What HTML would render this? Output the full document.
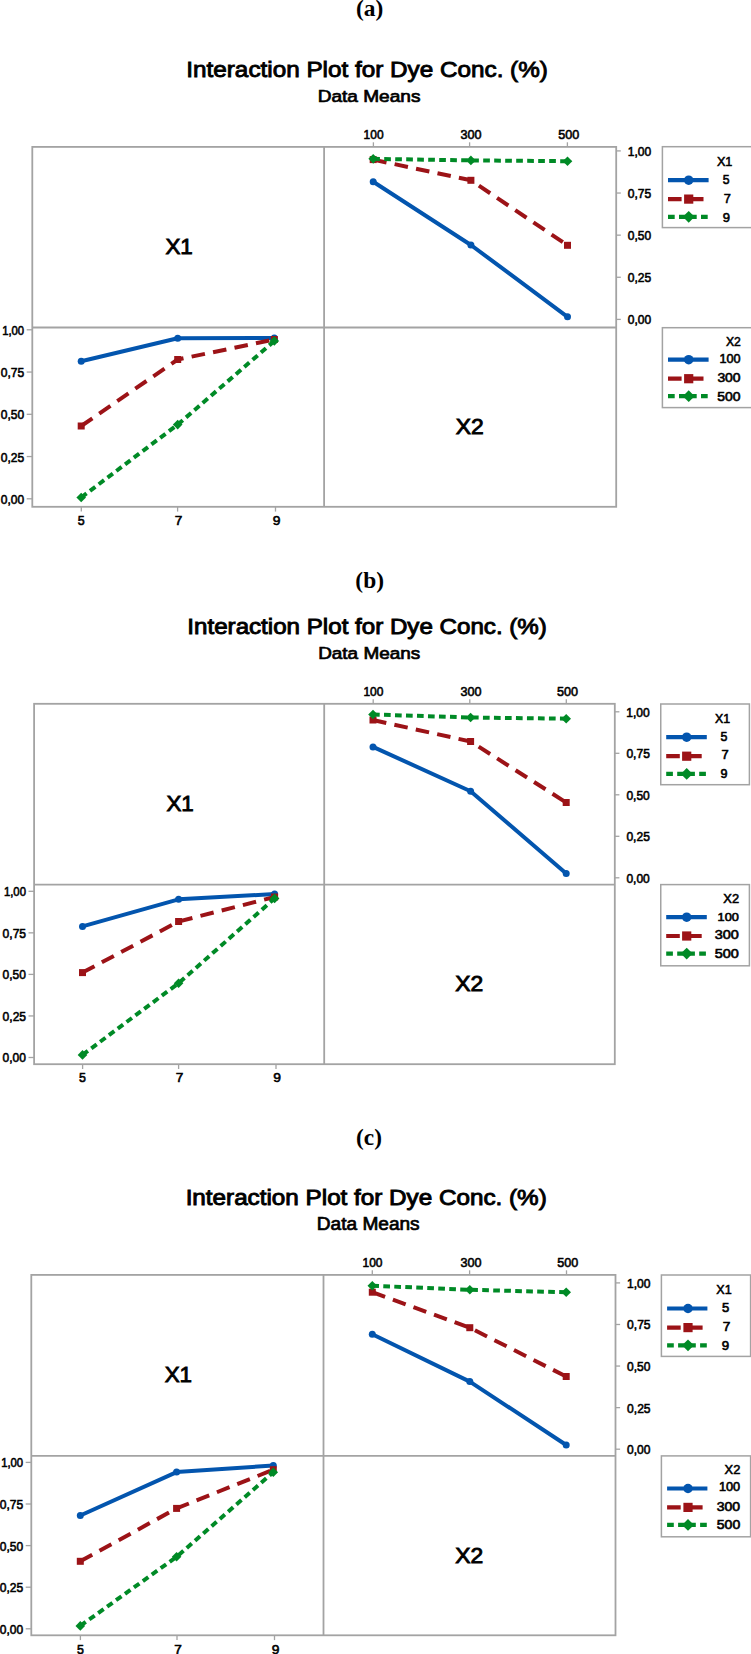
<!DOCTYPE html>
<html><head><meta charset="utf-8"><title>Interaction Plot for Dye Conc. (%)</title>
<style>html,body{margin:0;padding:0;background:#fff;}svg{display:block;}</style></head>
<body>
<svg width="751" height="1654" viewBox="0 0 751 1654">
<rect width="751" height="1654" fill="#fff"/>
<rect x="32.30" y="146.90" width="583.90" height="359.90" fill="none" stroke="#a3a3a3" stroke-width="1.8"/>
<line x1="324.10" y1="146.90" x2="324.10" y2="506.80" stroke="#a3a3a3" stroke-width="1.8"/>
<line x1="32.30" y1="327.50" x2="616.20" y2="327.50" stroke="#a3a3a3" stroke-width="1.8"/>
<line x1="373.40" y1="142.30" x2="373.40" y2="146.90" stroke="#a3a3a3" stroke-width="1.3"/>
<line x1="469.60" y1="142.30" x2="469.60" y2="146.90" stroke="#a3a3a3" stroke-width="1.3"/>
<line x1="567.40" y1="142.30" x2="567.40" y2="146.90" stroke="#a3a3a3" stroke-width="1.3"/>
<line x1="81.30" y1="506.80" x2="81.30" y2="511.60" stroke="#a3a3a3" stroke-width="1.3"/>
<line x1="177.60" y1="506.80" x2="177.60" y2="511.60" stroke="#a3a3a3" stroke-width="1.3"/>
<line x1="275.50" y1="506.80" x2="275.50" y2="511.60" stroke="#a3a3a3" stroke-width="1.3"/>
<line x1="616.20" y1="319.40" x2="620.80" y2="319.40" stroke="#a3a3a3" stroke-width="1.3"/>
<line x1="616.20" y1="277.27" x2="620.80" y2="277.27" stroke="#a3a3a3" stroke-width="1.3"/>
<line x1="616.20" y1="235.15" x2="620.80" y2="235.15" stroke="#a3a3a3" stroke-width="1.3"/>
<line x1="616.20" y1="193.03" x2="620.80" y2="193.03" stroke="#a3a3a3" stroke-width="1.3"/>
<line x1="616.20" y1="150.90" x2="620.80" y2="150.90" stroke="#a3a3a3" stroke-width="1.3"/>
<line x1="26.70" y1="498.80" x2="32.30" y2="498.80" stroke="#a3a3a3" stroke-width="1.3"/>
<line x1="26.70" y1="456.55" x2="32.30" y2="456.55" stroke="#a3a3a3" stroke-width="1.3"/>
<line x1="26.70" y1="414.30" x2="32.30" y2="414.30" stroke="#a3a3a3" stroke-width="1.3"/>
<line x1="26.70" y1="372.05" x2="32.30" y2="372.05" stroke="#a3a3a3" stroke-width="1.3"/>
<line x1="26.70" y1="329.80" x2="32.30" y2="329.80" stroke="#a3a3a3" stroke-width="1.3"/>
<polyline points="81.20,361.30 177.70,338.30 274.30,338.00" fill="none" stroke="#0355ae" stroke-width="4" stroke-linejoin="round"/>
<circle cx="81.20" cy="361.30" r="3.50" fill="#0355ae"/>
<circle cx="177.70" cy="338.30" r="3.50" fill="#0355ae"/>
<circle cx="274.30" cy="338.00" r="3.50" fill="#0355ae"/>
<polyline points="81.20,426.00 177.70,359.50 274.30,339.50" fill="none" stroke="#9c1317" stroke-width="4" stroke-linejoin="round" stroke-dasharray="13.6 8.3"/>
<rect x="77.70" y="422.50" width="7.00" height="7.00" fill="#9c1317"/>
<rect x="174.20" y="356.00" width="7.00" height="7.00" fill="#9c1317"/>
<rect x="270.80" y="336.00" width="7.00" height="7.00" fill="#9c1317"/>
<polyline points="81.20,497.50 177.70,424.60 274.30,341.00" fill="none" stroke="#008a26" stroke-width="4" stroke-linejoin="round" stroke-dasharray="6.7 4.3"/>
<polygon points="81.20,492.70 86.00,497.50 81.20,502.30 76.40,497.50" fill="#008a26"/>
<polygon points="177.70,419.80 182.50,424.60 177.70,429.40 172.90,424.60" fill="#008a26"/>
<polygon points="274.30,336.20 279.10,341.00 274.30,345.80 269.50,341.00" fill="#008a26"/>
<polyline points="373.20,181.75 470.90,245.00 567.50,316.80" fill="none" stroke="#0355ae" stroke-width="4" stroke-linejoin="round"/>
<circle cx="373.20" cy="181.75" r="3.50" fill="#0355ae"/>
<circle cx="470.90" cy="245.00" r="3.50" fill="#0355ae"/>
<circle cx="567.50" cy="316.80" r="3.50" fill="#0355ae"/>
<polyline points="373.20,159.60 470.90,180.30 567.50,245.30" fill="none" stroke="#9c1317" stroke-width="4" stroke-linejoin="round" stroke-dasharray="13.6 8.3"/>
<rect x="369.70" y="156.10" width="7.00" height="7.00" fill="#9c1317"/>
<rect x="467.40" y="176.80" width="7.00" height="7.00" fill="#9c1317"/>
<rect x="564.00" y="241.80" width="7.00" height="7.00" fill="#9c1317"/>
<polyline points="373.20,158.85 470.90,160.40 567.50,161.20" fill="none" stroke="#008a26" stroke-width="4" stroke-linejoin="round" stroke-dasharray="6.7 4.3"/>
<polygon points="373.20,154.05 378.00,158.85 373.20,163.65 368.40,158.85" fill="#008a26"/>
<polygon points="470.90,155.60 475.70,160.40 470.90,165.20 466.10,160.40" fill="#008a26"/>
<polygon points="567.50,156.40 572.30,161.20 567.50,166.00 562.70,161.20" fill="#008a26"/>
<rect x="662.40" y="146.70" width="97.60" height="80.90" fill="none" stroke="#a3a3a3" stroke-width="1.5"/>
<line x1="668.00" y1="180.20" x2="708.60" y2="180.20" stroke="#0355ae" stroke-width="4.2"/>
<circle cx="688.70" cy="180.20" r="4.75" fill="#0355ae"/>
<line x1="668.00" y1="199.10" x2="708.60" y2="199.10" stroke="#9c1317" stroke-width="4.2" stroke-dasharray="13.6 8.3"/>
<rect x="684.10" y="194.50" width="9.20" height="9.20" fill="#9c1317"/>
<line x1="668.00" y1="216.80" x2="708.60" y2="216.80" stroke="#008a26" stroke-width="4.2" stroke-dasharray="6.7 4.3"/>
<polygon points="688.70,210.90 694.60,216.80 688.70,222.70 682.80,216.80" fill="#008a26"/>
<rect x="662.40" y="327.70" width="97.60" height="79.90" fill="none" stroke="#a3a3a3" stroke-width="1.5"/>
<line x1="668.00" y1="359.70" x2="708.60" y2="359.70" stroke="#0355ae" stroke-width="4.2"/>
<circle cx="688.70" cy="359.70" r="4.75" fill="#0355ae"/>
<line x1="668.00" y1="378.70" x2="708.60" y2="378.70" stroke="#9c1317" stroke-width="4.2" stroke-dasharray="13.6 8.3"/>
<rect x="684.10" y="374.10" width="9.20" height="9.20" fill="#9c1317"/>
<line x1="668.00" y1="396.20" x2="708.60" y2="396.20" stroke="#008a26" stroke-width="4.2" stroke-dasharray="6.7 4.3"/>
<polygon points="688.70,390.30 694.60,396.20 688.70,402.10 682.80,396.20" fill="#008a26"/>
<rect x="34.10" y="703.80" width="580.70" height="360.40" fill="none" stroke="#a3a3a3" stroke-width="1.8"/>
<line x1="324.20" y1="703.80" x2="324.20" y2="1064.20" stroke="#a3a3a3" stroke-width="1.8"/>
<line x1="34.10" y1="884.60" x2="614.80" y2="884.60" stroke="#a3a3a3" stroke-width="1.8"/>
<line x1="373.20" y1="699.20" x2="373.20" y2="703.80" stroke="#a3a3a3" stroke-width="1.3"/>
<line x1="469.80" y1="699.20" x2="469.80" y2="703.80" stroke="#a3a3a3" stroke-width="1.3"/>
<line x1="566.30" y1="699.20" x2="566.30" y2="703.80" stroke="#a3a3a3" stroke-width="1.3"/>
<line x1="82.60" y1="1064.20" x2="82.60" y2="1069.00" stroke="#a3a3a3" stroke-width="1.3"/>
<line x1="178.60" y1="1064.20" x2="178.60" y2="1069.00" stroke="#a3a3a3" stroke-width="1.3"/>
<line x1="276.00" y1="1064.20" x2="276.00" y2="1069.00" stroke="#a3a3a3" stroke-width="1.3"/>
<line x1="614.80" y1="877.80" x2="619.40" y2="877.80" stroke="#a3a3a3" stroke-width="1.3"/>
<line x1="614.80" y1="836.30" x2="619.40" y2="836.30" stroke="#a3a3a3" stroke-width="1.3"/>
<line x1="614.80" y1="794.80" x2="619.40" y2="794.80" stroke="#a3a3a3" stroke-width="1.3"/>
<line x1="614.80" y1="753.30" x2="619.40" y2="753.30" stroke="#a3a3a3" stroke-width="1.3"/>
<line x1="614.80" y1="711.80" x2="619.40" y2="711.80" stroke="#a3a3a3" stroke-width="1.3"/>
<line x1="28.50" y1="1057.50" x2="34.10" y2="1057.50" stroke="#a3a3a3" stroke-width="1.3"/>
<line x1="28.50" y1="1015.95" x2="34.10" y2="1015.95" stroke="#a3a3a3" stroke-width="1.3"/>
<line x1="28.50" y1="974.40" x2="34.10" y2="974.40" stroke="#a3a3a3" stroke-width="1.3"/>
<line x1="28.50" y1="932.85" x2="34.10" y2="932.85" stroke="#a3a3a3" stroke-width="1.3"/>
<line x1="28.50" y1="891.30" x2="34.10" y2="891.30" stroke="#a3a3a3" stroke-width="1.3"/>
<polyline points="82.50,926.40 178.60,899.30 274.60,894.10" fill="none" stroke="#0355ae" stroke-width="4" stroke-linejoin="round"/>
<circle cx="82.50" cy="926.40" r="3.50" fill="#0355ae"/>
<circle cx="178.60" cy="899.30" r="3.50" fill="#0355ae"/>
<circle cx="274.60" cy="894.10" r="3.50" fill="#0355ae"/>
<polyline points="82.50,972.60 178.60,921.50 274.60,897.00" fill="none" stroke="#9c1317" stroke-width="4" stroke-linejoin="round" stroke-dasharray="13.6 8.3"/>
<rect x="79.00" y="969.10" width="7.00" height="7.00" fill="#9c1317"/>
<rect x="175.10" y="918.00" width="7.00" height="7.00" fill="#9c1317"/>
<rect x="271.10" y="893.50" width="7.00" height="7.00" fill="#9c1317"/>
<polyline points="82.50,1054.90 178.60,983.20 274.60,898.40" fill="none" stroke="#008a26" stroke-width="4" stroke-linejoin="round" stroke-dasharray="6.7 4.3"/>
<polygon points="82.50,1050.10 87.30,1054.90 82.50,1059.70 77.70,1054.90" fill="#008a26"/>
<polygon points="178.60,978.40 183.40,983.20 178.60,988.00 173.80,983.20" fill="#008a26"/>
<polygon points="274.60,893.60 279.40,898.40 274.60,903.20 269.80,898.40" fill="#008a26"/>
<polyline points="373.00,746.90 470.60,791.20 566.20,873.60" fill="none" stroke="#0355ae" stroke-width="4" stroke-linejoin="round"/>
<circle cx="373.00" cy="746.90" r="3.50" fill="#0355ae"/>
<circle cx="470.60" cy="791.20" r="3.50" fill="#0355ae"/>
<circle cx="566.20" cy="873.60" r="3.50" fill="#0355ae"/>
<polyline points="373.00,720.00 470.60,741.50 566.20,802.50" fill="none" stroke="#9c1317" stroke-width="4" stroke-linejoin="round" stroke-dasharray="13.6 8.3"/>
<rect x="369.50" y="716.50" width="7.00" height="7.00" fill="#9c1317"/>
<rect x="467.10" y="738.00" width="7.00" height="7.00" fill="#9c1317"/>
<rect x="562.70" y="799.00" width="7.00" height="7.00" fill="#9c1317"/>
<polyline points="373.00,714.50 470.60,717.50 566.20,718.70" fill="none" stroke="#008a26" stroke-width="4" stroke-linejoin="round" stroke-dasharray="6.7 4.3"/>
<polygon points="373.00,709.70 377.80,714.50 373.00,719.30 368.20,714.50" fill="#008a26"/>
<polygon points="470.60,712.70 475.40,717.50 470.60,722.30 465.80,717.50" fill="#008a26"/>
<polygon points="566.20,713.90 571.00,718.70 566.20,723.50 561.40,718.70" fill="#008a26"/>
<rect x="660.75" y="704.00" width="88.65" height="80.70" fill="none" stroke="#a3a3a3" stroke-width="1.5"/>
<line x1="666.20" y1="737.20" x2="706.80" y2="737.20" stroke="#0355ae" stroke-width="4.2"/>
<circle cx="686.70" cy="737.20" r="4.75" fill="#0355ae"/>
<line x1="666.20" y1="756.20" x2="706.80" y2="756.20" stroke="#9c1317" stroke-width="4.2" stroke-dasharray="13.6 8.3"/>
<rect x="682.10" y="751.60" width="9.20" height="9.20" fill="#9c1317"/>
<line x1="666.20" y1="773.90" x2="706.80" y2="773.90" stroke="#008a26" stroke-width="4.2" stroke-dasharray="6.7 4.3"/>
<polygon points="686.70,768.00 692.60,773.90 686.70,779.80 680.80,773.90" fill="#008a26"/>
<rect x="660.75" y="884.60" width="88.65" height="81.20" fill="none" stroke="#a3a3a3" stroke-width="1.5"/>
<line x1="666.20" y1="917.20" x2="706.80" y2="917.20" stroke="#0355ae" stroke-width="4.2"/>
<circle cx="686.70" cy="917.20" r="4.75" fill="#0355ae"/>
<line x1="666.20" y1="936.00" x2="706.80" y2="936.00" stroke="#9c1317" stroke-width="4.2" stroke-dasharray="13.6 8.3"/>
<rect x="682.10" y="931.40" width="9.20" height="9.20" fill="#9c1317"/>
<line x1="666.20" y1="953.60" x2="706.80" y2="953.60" stroke="#008a26" stroke-width="4.2" stroke-dasharray="6.7 4.3"/>
<polygon points="686.70,947.70 692.60,953.60 686.70,959.50 680.80,953.60" fill="#008a26"/>
<rect x="31.30" y="1274.90" width="584.20" height="360.40" fill="none" stroke="#a3a3a3" stroke-width="1.8"/>
<line x1="323.50" y1="1274.90" x2="323.50" y2="1635.30" stroke="#a3a3a3" stroke-width="1.8"/>
<line x1="31.30" y1="1455.90" x2="615.50" y2="1455.90" stroke="#a3a3a3" stroke-width="1.8"/>
<line x1="372.30" y1="1270.30" x2="372.30" y2="1274.90" stroke="#a3a3a3" stroke-width="1.3"/>
<line x1="469.60" y1="1270.30" x2="469.60" y2="1274.90" stroke="#a3a3a3" stroke-width="1.3"/>
<line x1="566.50" y1="1270.30" x2="566.50" y2="1274.90" stroke="#a3a3a3" stroke-width="1.3"/>
<line x1="80.40" y1="1635.30" x2="80.40" y2="1640.10" stroke="#a3a3a3" stroke-width="1.3"/>
<line x1="177.00" y1="1635.30" x2="177.00" y2="1640.10" stroke="#a3a3a3" stroke-width="1.3"/>
<line x1="274.50" y1="1635.30" x2="274.50" y2="1640.10" stroke="#a3a3a3" stroke-width="1.3"/>
<line x1="615.50" y1="1449.20" x2="620.10" y2="1449.20" stroke="#a3a3a3" stroke-width="1.3"/>
<line x1="615.50" y1="1407.62" x2="620.10" y2="1407.62" stroke="#a3a3a3" stroke-width="1.3"/>
<line x1="615.50" y1="1366.05" x2="620.10" y2="1366.05" stroke="#a3a3a3" stroke-width="1.3"/>
<line x1="615.50" y1="1324.48" x2="620.10" y2="1324.48" stroke="#a3a3a3" stroke-width="1.3"/>
<line x1="615.50" y1="1282.90" x2="620.10" y2="1282.90" stroke="#a3a3a3" stroke-width="1.3"/>
<line x1="25.70" y1="1628.80" x2="31.30" y2="1628.80" stroke="#a3a3a3" stroke-width="1.3"/>
<line x1="25.70" y1="1587.20" x2="31.30" y2="1587.20" stroke="#a3a3a3" stroke-width="1.3"/>
<line x1="25.70" y1="1545.60" x2="31.30" y2="1545.60" stroke="#a3a3a3" stroke-width="1.3"/>
<line x1="25.70" y1="1504.00" x2="31.30" y2="1504.00" stroke="#a3a3a3" stroke-width="1.3"/>
<line x1="25.70" y1="1462.40" x2="31.30" y2="1462.40" stroke="#a3a3a3" stroke-width="1.3"/>
<polyline points="80.30,1515.50 176.60,1472.10 273.30,1465.50" fill="none" stroke="#0355ae" stroke-width="4" stroke-linejoin="round"/>
<circle cx="80.30" cy="1515.50" r="3.50" fill="#0355ae"/>
<circle cx="176.60" cy="1472.10" r="3.50" fill="#0355ae"/>
<circle cx="273.30" cy="1465.50" r="3.50" fill="#0355ae"/>
<polyline points="80.30,1561.30 176.60,1508.40 273.30,1469.70" fill="none" stroke="#9c1317" stroke-width="4" stroke-linejoin="round" stroke-dasharray="13.6 8.3"/>
<rect x="76.80" y="1557.80" width="7.00" height="7.00" fill="#9c1317"/>
<rect x="173.10" y="1504.90" width="7.00" height="7.00" fill="#9c1317"/>
<rect x="269.80" y="1466.20" width="7.00" height="7.00" fill="#9c1317"/>
<polyline points="80.30,1625.90 176.60,1556.80 273.30,1472.20" fill="none" stroke="#008a26" stroke-width="4" stroke-linejoin="round" stroke-dasharray="6.7 4.3"/>
<polygon points="80.30,1621.10 85.10,1625.90 80.30,1630.70 75.50,1625.90" fill="#008a26"/>
<polygon points="176.60,1552.00 181.40,1556.80 176.60,1561.60 171.80,1556.80" fill="#008a26"/>
<polygon points="273.30,1467.40 278.10,1472.20 273.30,1477.00 268.50,1472.20" fill="#008a26"/>
<polyline points="372.30,1334.30 469.80,1381.60 566.20,1445.00" fill="none" stroke="#0355ae" stroke-width="4" stroke-linejoin="round"/>
<circle cx="372.30" cy="1334.30" r="3.50" fill="#0355ae"/>
<circle cx="469.80" cy="1381.60" r="3.50" fill="#0355ae"/>
<circle cx="566.20" cy="1445.00" r="3.50" fill="#0355ae"/>
<polyline points="372.30,1292.20 469.80,1327.70 566.20,1376.50" fill="none" stroke="#9c1317" stroke-width="4" stroke-linejoin="round" stroke-dasharray="13.6 8.3"/>
<rect x="368.80" y="1288.70" width="7.00" height="7.00" fill="#9c1317"/>
<rect x="466.30" y="1324.20" width="7.00" height="7.00" fill="#9c1317"/>
<rect x="562.70" y="1373.00" width="7.00" height="7.00" fill="#9c1317"/>
<polyline points="372.30,1285.70 469.80,1289.80 566.20,1292.30" fill="none" stroke="#008a26" stroke-width="4" stroke-linejoin="round" stroke-dasharray="6.7 4.3"/>
<polygon points="372.30,1280.90 377.10,1285.70 372.30,1290.50 367.50,1285.70" fill="#008a26"/>
<polygon points="469.80,1285.00 474.60,1289.80 469.80,1294.60 465.00,1289.80" fill="#008a26"/>
<polygon points="566.20,1287.50 571.00,1292.30 566.20,1297.10 561.40,1292.30" fill="#008a26"/>
<rect x="661.40" y="1275.00" width="89.20" height="81.40" fill="none" stroke="#a3a3a3" stroke-width="1.5"/>
<line x1="667.10" y1="1308.50" x2="707.40" y2="1308.50" stroke="#0355ae" stroke-width="4.2"/>
<circle cx="688.00" cy="1308.50" r="4.75" fill="#0355ae"/>
<line x1="667.10" y1="1327.60" x2="707.40" y2="1327.60" stroke="#9c1317" stroke-width="4.2" stroke-dasharray="13.6 8.3"/>
<rect x="683.40" y="1323.00" width="9.20" height="9.20" fill="#9c1317"/>
<line x1="667.10" y1="1345.30" x2="707.40" y2="1345.30" stroke="#008a26" stroke-width="4.2" stroke-dasharray="6.7 4.3"/>
<polygon points="688.00,1339.40 693.90,1345.30 688.00,1351.20 682.10,1345.30" fill="#008a26"/>
<rect x="661.40" y="1455.90" width="89.20" height="80.90" fill="none" stroke="#a3a3a3" stroke-width="1.5"/>
<line x1="667.10" y1="1488.50" x2="707.40" y2="1488.50" stroke="#0355ae" stroke-width="4.2"/>
<circle cx="688.00" cy="1488.50" r="4.75" fill="#0355ae"/>
<line x1="667.10" y1="1507.40" x2="707.40" y2="1507.40" stroke="#9c1317" stroke-width="4.2" stroke-dasharray="13.6 8.3"/>
<rect x="683.40" y="1502.80" width="9.20" height="9.20" fill="#9c1317"/>
<line x1="667.10" y1="1524.90" x2="707.40" y2="1524.90" stroke="#008a26" stroke-width="4.2" stroke-dasharray="6.7 4.3"/>
<polygon points="688.00,1519.00 693.90,1524.90 688.00,1530.80 682.10,1524.90" fill="#008a26"/>
<g fill="#000">
<text transform="translate(356.06,16.40) scale(1.0185,1)" font-family="'Liberation Serif', 'Times New Roman', serif" font-weight="bold" font-size="23.00">(a)</text>
<text transform="translate(186.30,77.45) scale(1.0741,1)" font-family="'Liberation Sans', Arial, sans-serif" font-weight="normal" font-size="22.61" stroke="#000" stroke-width="0.90">Interaction Plot for Dye Conc. (%)</text>
<text transform="translate(317.68,102.05) scale(1.1644,1)" font-family="'Liberation Sans', Arial, sans-serif" font-weight="normal" font-size="16.38" stroke="#000" stroke-width="0.70">Data Means</text>
<text transform="translate(363.61,138.90) scale(0.9012,1)" font-family="'Liberation Sans', Arial, sans-serif" font-weight="normal" font-size="13.29" stroke="#000" stroke-width="0.60">100</text>
<text transform="translate(460.38,138.90) scale(0.9482,1)" font-family="'Liberation Sans', Arial, sans-serif" font-weight="normal" font-size="13.29" stroke="#000" stroke-width="0.60">300</text>
<text transform="translate(558.18,138.90) scale(0.9482,1)" font-family="'Liberation Sans', Arial, sans-serif" font-weight="normal" font-size="13.29" stroke="#000" stroke-width="0.60">500</text>
<text transform="translate(77.78,525.00) scale(0.9351,1)" font-family="'Liberation Sans', Arial, sans-serif" font-weight="normal" font-size="13.29" stroke="#000" stroke-width="0.60">5</text>
<text transform="translate(174.83,525.00) scale(1.0281,1)" font-family="'Liberation Sans', Arial, sans-serif" font-weight="normal" font-size="13.29" stroke="#000" stroke-width="0.60">7</text>
<text transform="translate(272.72,525.00) scale(1.0430,1)" font-family="'Liberation Sans', Arial, sans-serif" font-weight="normal" font-size="13.29" stroke="#000" stroke-width="0.60">9</text>
<text transform="translate(627.79,324.35) scale(0.9039,1)" font-family="'Liberation Sans', Arial, sans-serif" font-weight="normal" font-size="13.29" stroke="#000" stroke-width="0.60">0,00</text>
<text transform="translate(0.79,503.75) scale(0.9039,1)" font-family="'Liberation Sans', Arial, sans-serif" font-weight="normal" font-size="13.29" stroke="#000" stroke-width="0.60">0,00</text>
<text transform="translate(627.79,282.22) scale(0.9087,1)" font-family="'Liberation Sans', Arial, sans-serif" font-weight="normal" font-size="13.29" stroke="#000" stroke-width="0.60">0,25</text>
<text transform="translate(0.79,461.50) scale(0.9087,1)" font-family="'Liberation Sans', Arial, sans-serif" font-weight="normal" font-size="13.29" stroke="#000" stroke-width="0.60">0,25</text>
<text transform="translate(627.79,240.10) scale(0.9039,1)" font-family="'Liberation Sans', Arial, sans-serif" font-weight="normal" font-size="13.29" stroke="#000" stroke-width="0.60">0,50</text>
<text transform="translate(0.79,419.25) scale(0.9039,1)" font-family="'Liberation Sans', Arial, sans-serif" font-weight="normal" font-size="13.29" stroke="#000" stroke-width="0.60">0,50</text>
<text transform="translate(627.79,197.97) scale(0.9087,1)" font-family="'Liberation Sans', Arial, sans-serif" font-weight="normal" font-size="13.29" stroke="#000" stroke-width="0.60">0,75</text>
<text transform="translate(0.79,377.00) scale(0.9087,1)" font-family="'Liberation Sans', Arial, sans-serif" font-weight="normal" font-size="13.29" stroke="#000" stroke-width="0.60">0,75</text>
<text transform="translate(627.71,155.85) scale(0.9072,1)" font-family="'Liberation Sans', Arial, sans-serif" font-weight="normal" font-size="13.29" stroke="#000" stroke-width="0.60">1,00</text>
<text transform="translate(2.15,334.75) scale(0.8510,1)" font-family="'Liberation Sans', Arial, sans-serif" font-weight="normal" font-size="13.29" stroke="#000" stroke-width="0.60">1,00</text>
<text transform="translate(165.43,253.85) scale(1.0031,1)" font-family="'Liberation Sans', Arial, sans-serif" font-weight="normal" font-size="22.32" stroke="#000" stroke-width="0.90">X1</text>
<text transform="translate(455.79,434.15) scale(1.0479,1)" font-family="'Liberation Sans', Arial, sans-serif" font-weight="normal" font-size="21.81" stroke="#000" stroke-width="0.90">X2</text>
<text transform="translate(716.88,166.22) scale(0.9557,1)" font-family="'Liberation Sans', Arial, sans-serif" font-weight="normal" font-size="13.26" stroke="#000" stroke-width="0.55">X1</text>
<text transform="translate(722.80,183.50) scale(0.9484,1)" font-family="'Liberation Sans', Arial, sans-serif" font-weight="normal" font-size="12.86" stroke="#000" stroke-width="0.60">5</text>
<text transform="translate(723.65,202.60) scale(0.9781,1)" font-family="'Liberation Sans', Arial, sans-serif" font-weight="normal" font-size="13.14" stroke="#000" stroke-width="0.60">7</text>
<text transform="translate(722.65,221.50) scale(0.9931,1)" font-family="'Liberation Sans', Arial, sans-serif" font-weight="normal" font-size="13.14" stroke="#000" stroke-width="0.60">9</text>
<text transform="translate(725.89,345.93) scale(0.9289,1)" font-family="'Liberation Sans', Arial, sans-serif" font-weight="normal" font-size="13.12" stroke="#000" stroke-width="0.55">X2</text>
<text transform="translate(719.48,363.20) scale(0.9840,1)" font-family="'Liberation Sans', Arial, sans-serif" font-weight="normal" font-size="12.86" stroke="#000" stroke-width="0.60">100</text>
<text transform="translate(717.38,382.00) scale(1.1198,1)" font-family="'Liberation Sans', Arial, sans-serif" font-weight="normal" font-size="12.43" stroke="#000" stroke-width="0.60">300</text>
<text transform="translate(717.37,400.90) scale(1.0835,1)" font-family="'Liberation Sans', Arial, sans-serif" font-weight="normal" font-size="12.86" stroke="#000" stroke-width="0.60">500</text>
<text transform="translate(355.36,587.60) scale(1.0183,1)" font-family="'Liberation Serif', 'Times New Roman', serif" font-weight="bold" font-size="23.00">(b)</text>
<text transform="translate(187.33,634.15) scale(1.1104,1)" font-family="'Liberation Sans', Arial, sans-serif" font-weight="normal" font-size="21.74" stroke="#000" stroke-width="0.90">Interaction Plot for Dye Conc. (%)</text>
<text transform="translate(318.19,658.85) scale(1.1552,1)" font-family="'Liberation Sans', Arial, sans-serif" font-weight="normal" font-size="16.38" stroke="#000" stroke-width="0.70">Data Means</text>
<text transform="translate(363.41,695.80) scale(0.9012,1)" font-family="'Liberation Sans', Arial, sans-serif" font-weight="normal" font-size="13.29" stroke="#000" stroke-width="0.60">100</text>
<text transform="translate(460.58,695.80) scale(0.9482,1)" font-family="'Liberation Sans', Arial, sans-serif" font-weight="normal" font-size="13.29" stroke="#000" stroke-width="0.60">300</text>
<text transform="translate(557.08,695.80) scale(0.9482,1)" font-family="'Liberation Sans', Arial, sans-serif" font-weight="normal" font-size="13.29" stroke="#000" stroke-width="0.60">500</text>
<text transform="translate(79.08,1082.40) scale(0.9351,1)" font-family="'Liberation Sans', Arial, sans-serif" font-weight="normal" font-size="13.29" stroke="#000" stroke-width="0.60">5</text>
<text transform="translate(175.83,1082.40) scale(1.0281,1)" font-family="'Liberation Sans', Arial, sans-serif" font-weight="normal" font-size="13.29" stroke="#000" stroke-width="0.60">7</text>
<text transform="translate(273.22,1082.40) scale(1.0430,1)" font-family="'Liberation Sans', Arial, sans-serif" font-weight="normal" font-size="13.29" stroke="#000" stroke-width="0.60">9</text>
<text transform="translate(626.39,882.75) scale(0.9039,1)" font-family="'Liberation Sans', Arial, sans-serif" font-weight="normal" font-size="13.29" stroke="#000" stroke-width="0.60">0,00</text>
<text transform="translate(2.59,1062.45) scale(0.9039,1)" font-family="'Liberation Sans', Arial, sans-serif" font-weight="normal" font-size="13.29" stroke="#000" stroke-width="0.60">0,00</text>
<text transform="translate(626.39,841.25) scale(0.9087,1)" font-family="'Liberation Sans', Arial, sans-serif" font-weight="normal" font-size="13.29" stroke="#000" stroke-width="0.60">0,25</text>
<text transform="translate(2.59,1020.90) scale(0.9087,1)" font-family="'Liberation Sans', Arial, sans-serif" font-weight="normal" font-size="13.29" stroke="#000" stroke-width="0.60">0,25</text>
<text transform="translate(626.39,799.75) scale(0.9039,1)" font-family="'Liberation Sans', Arial, sans-serif" font-weight="normal" font-size="13.29" stroke="#000" stroke-width="0.60">0,50</text>
<text transform="translate(2.59,979.35) scale(0.9039,1)" font-family="'Liberation Sans', Arial, sans-serif" font-weight="normal" font-size="13.29" stroke="#000" stroke-width="0.60">0,50</text>
<text transform="translate(626.39,758.25) scale(0.9087,1)" font-family="'Liberation Sans', Arial, sans-serif" font-weight="normal" font-size="13.29" stroke="#000" stroke-width="0.60">0,75</text>
<text transform="translate(2.59,937.80) scale(0.9087,1)" font-family="'Liberation Sans', Arial, sans-serif" font-weight="normal" font-size="13.29" stroke="#000" stroke-width="0.60">0,75</text>
<text transform="translate(626.31,716.75) scale(0.9072,1)" font-family="'Liberation Sans', Arial, sans-serif" font-weight="normal" font-size="13.29" stroke="#000" stroke-width="0.60">1,00</text>
<text transform="translate(3.95,896.25) scale(0.8510,1)" font-family="'Liberation Sans', Arial, sans-serif" font-weight="normal" font-size="13.29" stroke="#000" stroke-width="0.60">1,00</text>
<text transform="translate(166.38,810.85) scale(1.0031,1)" font-family="'Liberation Sans', Arial, sans-serif" font-weight="normal" font-size="22.32" stroke="#000" stroke-width="0.90">X1</text>
<text transform="translate(455.14,991.40) scale(1.0479,1)" font-family="'Liberation Sans', Arial, sans-serif" font-weight="normal" font-size="21.81" stroke="#000" stroke-width="0.90">X2</text>
<text transform="translate(714.91,722.83) scale(1.0230,1)" font-family="'Liberation Sans', Arial, sans-serif" font-weight="normal" font-size="12.10" stroke="#000" stroke-width="0.55">X1</text>
<text transform="translate(720.59,740.70) scale(0.9634,1)" font-family="'Liberation Sans', Arial, sans-serif" font-weight="normal" font-size="12.86" stroke="#000" stroke-width="0.60">5</text>
<text transform="translate(721.48,759.30) scale(1.0784,1)" font-family="'Liberation Sans', Arial, sans-serif" font-weight="normal" font-size="12.00" stroke="#000" stroke-width="0.60">7</text>
<text transform="translate(720.49,778.40) scale(1.0571,1)" font-family="'Liberation Sans', Arial, sans-serif" font-weight="normal" font-size="11.86" stroke="#000" stroke-width="0.60">9</text>
<text transform="translate(723.31,902.83) scale(1.0665,1)" font-family="'Liberation Sans', Arial, sans-serif" font-weight="normal" font-size="12.10" stroke="#000" stroke-width="0.55">X2</text>
<text transform="translate(717.61,920.50) scale(1.1006,1)" font-family="'Liberation Sans', Arial, sans-serif" font-weight="normal" font-size="11.57" stroke="#000" stroke-width="0.60">100</text>
<text transform="translate(714.78,939.30) scale(1.2043,1)" font-family="'Liberation Sans', Arial, sans-serif" font-weight="normal" font-size="12.00" stroke="#000" stroke-width="0.60">300</text>
<text transform="translate(714.78,957.80) scale(1.2043,1)" font-family="'Liberation Sans', Arial, sans-serif" font-weight="normal" font-size="12.00" stroke="#000" stroke-width="0.60">500</text>
<text transform="translate(356.07,1145.00) scale(1.0131,1)" font-family="'Liberation Serif', 'Times New Roman', serif" font-weight="bold" font-size="23.00">(c)</text>
<text transform="translate(185.63,1205.15) scale(1.1390,1)" font-family="'Liberation Sans', Arial, sans-serif" font-weight="normal" font-size="21.30" stroke="#000" stroke-width="0.90">Interaction Plot for Dye Conc. (%)</text>
<text transform="translate(316.85,1230.45) scale(1.0880,1)" font-family="'Liberation Sans', Arial, sans-serif" font-weight="normal" font-size="17.54" stroke="#000" stroke-width="0.70">Data Means</text>
<text transform="translate(362.51,1266.90) scale(0.9012,1)" font-family="'Liberation Sans', Arial, sans-serif" font-weight="normal" font-size="13.29" stroke="#000" stroke-width="0.60">100</text>
<text transform="translate(460.38,1266.90) scale(0.9482,1)" font-family="'Liberation Sans', Arial, sans-serif" font-weight="normal" font-size="13.29" stroke="#000" stroke-width="0.60">300</text>
<text transform="translate(557.28,1266.90) scale(0.9482,1)" font-family="'Liberation Sans', Arial, sans-serif" font-weight="normal" font-size="13.29" stroke="#000" stroke-width="0.60">500</text>
<text transform="translate(76.88,1653.50) scale(0.9351,1)" font-family="'Liberation Sans', Arial, sans-serif" font-weight="normal" font-size="13.29" stroke="#000" stroke-width="0.60">5</text>
<text transform="translate(174.23,1653.50) scale(1.0281,1)" font-family="'Liberation Sans', Arial, sans-serif" font-weight="normal" font-size="13.29" stroke="#000" stroke-width="0.60">7</text>
<text transform="translate(271.72,1653.50) scale(1.0430,1)" font-family="'Liberation Sans', Arial, sans-serif" font-weight="normal" font-size="13.29" stroke="#000" stroke-width="0.60">9</text>
<text transform="translate(627.09,1454.15) scale(0.9039,1)" font-family="'Liberation Sans', Arial, sans-serif" font-weight="normal" font-size="13.29" stroke="#000" stroke-width="0.60">0,00</text>
<text transform="translate(-0.21,1633.75) scale(0.9039,1)" font-family="'Liberation Sans', Arial, sans-serif" font-weight="normal" font-size="13.29" stroke="#000" stroke-width="0.60">0,00</text>
<text transform="translate(627.09,1412.58) scale(0.9087,1)" font-family="'Liberation Sans', Arial, sans-serif" font-weight="normal" font-size="13.29" stroke="#000" stroke-width="0.60">0,25</text>
<text transform="translate(-0.21,1592.15) scale(0.9087,1)" font-family="'Liberation Sans', Arial, sans-serif" font-weight="normal" font-size="13.29" stroke="#000" stroke-width="0.60">0,25</text>
<text transform="translate(627.09,1371.00) scale(0.9039,1)" font-family="'Liberation Sans', Arial, sans-serif" font-weight="normal" font-size="13.29" stroke="#000" stroke-width="0.60">0,50</text>
<text transform="translate(-0.21,1550.55) scale(0.9039,1)" font-family="'Liberation Sans', Arial, sans-serif" font-weight="normal" font-size="13.29" stroke="#000" stroke-width="0.60">0,50</text>
<text transform="translate(627.09,1329.43) scale(0.9087,1)" font-family="'Liberation Sans', Arial, sans-serif" font-weight="normal" font-size="13.29" stroke="#000" stroke-width="0.60">0,75</text>
<text transform="translate(-0.21,1508.95) scale(0.9087,1)" font-family="'Liberation Sans', Arial, sans-serif" font-weight="normal" font-size="13.29" stroke="#000" stroke-width="0.60">0,75</text>
<text transform="translate(627.01,1287.85) scale(0.9072,1)" font-family="'Liberation Sans', Arial, sans-serif" font-weight="normal" font-size="13.29" stroke="#000" stroke-width="0.60">1,00</text>
<text transform="translate(1.15,1467.35) scale(0.8510,1)" font-family="'Liberation Sans', Arial, sans-serif" font-weight="normal" font-size="13.29" stroke="#000" stroke-width="0.60">1,00</text>
<text transform="translate(164.63,1382.05) scale(1.0031,1)" font-family="'Liberation Sans', Arial, sans-serif" font-weight="normal" font-size="22.32" stroke="#000" stroke-width="0.90">X1</text>
<text transform="translate(455.14,1562.60) scale(1.0479,1)" font-family="'Liberation Sans', Arial, sans-serif" font-weight="normal" font-size="21.81" stroke="#000" stroke-width="0.90">X2</text>
<text transform="translate(716.30,1294.42) scale(1.0022,1)" font-family="'Liberation Sans', Arial, sans-serif" font-weight="normal" font-size="12.54" stroke="#000" stroke-width="0.55">X1</text>
<text transform="translate(721.90,1312.00) scale(1.0897,1)" font-family="'Liberation Sans', Arial, sans-serif" font-weight="normal" font-size="12.00" stroke="#000" stroke-width="0.60">5</text>
<text transform="translate(722.76,1331.20) scale(1.1438,1)" font-family="'Liberation Sans', Arial, sans-serif" font-weight="normal" font-size="12.00" stroke="#000" stroke-width="0.60">7</text>
<text transform="translate(721.77,1349.70) scale(1.1111,1)" font-family="'Liberation Sans', Arial, sans-serif" font-weight="normal" font-size="12.00" stroke="#000" stroke-width="0.60">9</text>
<text transform="translate(724.60,1474.12) scale(1.0309,1)" font-family="'Liberation Sans', Arial, sans-serif" font-weight="normal" font-size="12.54" stroke="#000" stroke-width="0.55">X2</text>
<text transform="translate(718.90,1491.40) scale(1.0625,1)" font-family="'Liberation Sans', Arial, sans-serif" font-weight="normal" font-size="12.00" stroke="#000" stroke-width="0.60">100</text>
<text transform="translate(716.79,1510.50) scale(1.1823,1)" font-family="'Liberation Sans', Arial, sans-serif" font-weight="normal" font-size="11.86" stroke="#000" stroke-width="0.60">300</text>
<text transform="translate(716.78,1529.30) scale(1.1423,1)" font-family="'Liberation Sans', Arial, sans-serif" font-weight="normal" font-size="12.29" stroke="#000" stroke-width="0.60">500</text>
</g>
</svg>
</body></html>
